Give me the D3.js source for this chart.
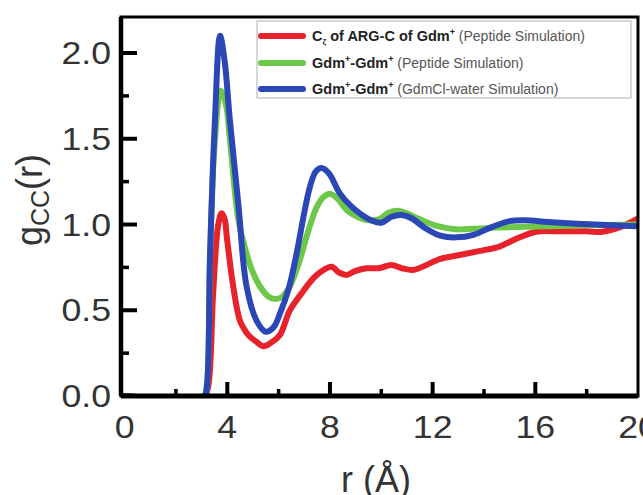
<!DOCTYPE html>
<html><head><meta charset="utf-8">
<script src="https://cdn.jsdelivr.net/npm/d3@7"></script>
<style>body{margin:0;background:#fff}svg{display:block}</style>
</head><body><svg id="c" width="643" height="495"></svg>
<script>
// ---- data ----
const xTicks = [0, 4, 8, 12, 16, 20];
const xMinorTicks = [2, 6, 10, 14, 18];
const yTicks = [0.0, 0.5, 1.0, 1.5, 2.0];
const yMinorTicks = [0.25, 0.75, 1.25, 1.75];

const rBlue = [0,3.1,3.2,3.33,3.52,3.72,3.9,4.1,4.43,4.75,5.14,5.5,5.8,6.05,6.4,6.7,7.0,7.22,7.45,7.67,7.95,8.39,8.8,9.16,9.6,10.0,10.4,10.8,11.2,11.7,12.3,12.9,13.6,14.3,15.0,15.6,16.5,17.8,19,20];
const gBlue = [0,0,0.05,0.83,1.61,2.10,1.95,1.61,1.12,0.64,0.44,0.375,0.40,0.48,0.63,0.83,1.07,1.22,1.31,1.33,1.30,1.18,1.11,1.065,1.025,1.01,1.045,1.055,1.035,0.98,0.935,0.925,0.94,0.985,1.02,1.025,1.015,1.003,0.995,0.99];

const rGreen = [0,3.1,3.2,3.33,3.5,3.75,3.95,4.1,4.43,4.75,5.0,5.27,5.6,5.86,6.15,6.44,6.8,7.09,7.48,7.75,8.0,8.3,8.65,9.0,9.42,9.9,10.3,10.65,11.0,11.5,12.2,12.9,13.6,14.5,15.3,16.5,18,20];
const gGreen = [0,0,0.05,0.8,1.45,1.78,1.7,1.50,1.03,0.83,0.72,0.64,0.58,0.565,0.58,0.64,0.78,0.93,1.10,1.16,1.18,1.15,1.085,1.05,1.026,1.03,1.07,1.08,1.065,1.03,0.99,0.972,0.975,0.982,0.985,0.99,0.995,1.0];

const rRed = [0,3.1,3.25,3.45,3.65,3.78,3.9,3.98,4.23,4.49,4.7,4.88,5.1,5.4,5.7,6.05,6.44,6.9,7.35,7.7,8.06,8.35,8.65,9.0,9.42,9.9,10.4,10.8,11.24,11.7,12.3,13.05,13.8,14.6,15.3,16.04,17,18,18.6,19.3,20];
const gRed = [0,0,0.05,0.6,1.0,1.065,1.03,0.93,0.64,0.44,0.38,0.346,0.32,0.29,0.31,0.356,0.50,0.60,0.686,0.73,0.754,0.72,0.706,0.73,0.745,0.745,0.764,0.745,0.735,0.76,0.80,0.822,0.845,0.871,0.92,0.958,0.96,0.96,0.958,0.985,1.036];

const seriesNames = ["red", "green", "blue"];
const seriesColors = ["#e8222b", "#6cc74a", "#2b47b5"];

// ---- layout ----
const svg = d3.select("#c");
const X0 = 121, X1 = 638, Y0 = 17, Y1 = 396;
const x = d3.scaleLinear().domain([-0.14, 20]).range([X0, X1]);
const y = d3.scaleLinear().domain([0, 2.21]).range([Y1, Y0]);
const font = "'Liberation Sans', Arial, sans-serif";

// curves
const series = [
  {r: rRed, g: gRed, c: seriesColors[0]},
  {r: rGreen, g: gGreen, c: seriesColors[1]},
  {r: rBlue, g: gBlue, c: seriesColors[2]}
];
const line = d3.line().x(d => x(d[0])).y(d => y(d[1])).curve(d3.curveCatmullRom.alpha(0.5));
const clip = svg.append("clipPath").attr("id","pc").append("rect")
  .attr("x", X0).attr("y", Y0).attr("width", X1 - X0).attr("height", Y1 - Y0 + 2);
series.forEach(s => {
  svg.append("path").datum(s.r.map((v,i)=>[v, s.g[i]]))
    .attr("d", line).attr("fill","none").attr("stroke", s.c)
    .attr("stroke-width", 6).attr("stroke-linejoin","round").attr("stroke-linecap","round")
    .attr("clip-path","url(#pc)");
});

// frame
svg.append("rect").attr("x", X0).attr("y", Y0).attr("width", X1 - X0).attr("height", Y1 - Y0)
  .attr("fill","none").attr("stroke","#000").attr("stroke-width",3);
svg.append("line").attr("x1", X0).attr("x2", X1).attr("y1", Y1).attr("y2", Y1).attr("stroke","#000").attr("stroke-width",5);
svg.append("line").attr("x1", X0).attr("x2", X0).attr("y1", Y0).attr("y2", Y1).attr("stroke","#000").attr("stroke-width",4.5);

// ticks (inward)
const gx = svg.append("g");
xTicks.filter(v => v > 0 && v < 20).forEach(v => gx.append("line").attr("x1", x(v)).attr("x2", x(v)).attr("y1", Y1).attr("y2", Y1 - 14).attr("stroke","#000").attr("stroke-width",4));
xMinorTicks.forEach(v => gx.append("line").attr("x1", x(v)).attr("x2", x(v)).attr("y1", Y1).attr("y2", Y1 - 7).attr("stroke","#000").attr("stroke-width",3.5));
yTicks.filter(v => v > 0).forEach(v => gx.append("line").attr("x1", X0).attr("x2", X0 + 16).attr("y1", y(v)).attr("y2", y(v)).attr("stroke","#000").attr("stroke-width",4));
yMinorTicks.forEach(v => gx.append("line").attr("x1", X0).attr("x2", X0 + 8).attr("y1", y(v)).attr("y2", y(v)).attr("stroke","#000").attr("stroke-width",3.5));

// tick labels (slightly wide glyphs as in reference)
xTicks.forEach(v => {
  svg.append("text").attr("transform", `translate(${x(v)},438) scale(1.15,1)`)
    .attr("text-anchor","middle").attr("font-family", font).attr("font-size", 31).attr("fill","#333").text(v);
});
yTicks.forEach(v => {
  svg.append("text").attr("transform", `translate(111,${y(v) + 11}) scale(1.15,1)`)
    .attr("text-anchor","end").attr("font-family", font).attr("font-size", 31).attr("fill","#333").text(v.toFixed(1));
});

// axis titles
const yl = svg.append("text").attr("transform","translate(42,200) rotate(-90)")
  .attr("text-anchor","middle").attr("font-family", font).attr("font-size", 36).attr("fill","#333");
yl.append("tspan").text("g");
yl.append("tspan").attr("font-size", 25).attr("dy", 7).text("CC");
yl.append("tspan").attr("dy", -7).text("(r)");

svg.append("text").attr("x", 376).attr("y", 492).attr("text-anchor","middle")
  .attr("font-family", font).attr("font-size", 36).attr("fill","#333").text("r (Å)");

// legend
svg.append("rect").attr("x", 257).attr("y", 21).attr("width", 374).attr("height", 77)
  .attr("fill","#fff").attr("stroke","#bbb").attr("stroke-width",1.2);
const legendRows = [
  {y: 36, main: [["C",0],["ζ",1],[" of ARG-C of Gdm",0],["+",2]], sub: " (Peptide Simulation)"},
  {y: 63, main: [["Gdm",0],["+",2],["-Gdm",0],["+",2]], sub: " (Peptide Simulation)"},
  {y: 89, main: [["Gdm",0],["+",2],["-Gdm",0],["+",2]], sub: " (GdmCl-water Simulation)"}
];
legendRows.forEach((row, i) => {
  svg.append("line").attr("x1", 261).attr("x2", 303).attr("y1", row.y).attr("y2", row.y)
    .attr("stroke", seriesColors[i]).attr("stroke-width", 6).attr("stroke-linecap","round");
  const t = svg.append("text").attr("x", 312).attr("y", row.y + 5)
    .attr("font-family", font).attr("font-size", 14.5).attr("fill","#222");
  row.main.forEach(([s, k]) => {
    const ts = t.append("tspan").attr("font-weight","bold").text(s);
    if (k === 1) ts.attr("font-size", 8).attr("baseline-shift", "-3");
    if (k === 2) ts.attr("font-size", 9).attr("baseline-shift", "6");
  });
  t.append("tspan").attr("fill","#555").attr("font-size", 14).text(row.sub);
});
</script></body></html>
